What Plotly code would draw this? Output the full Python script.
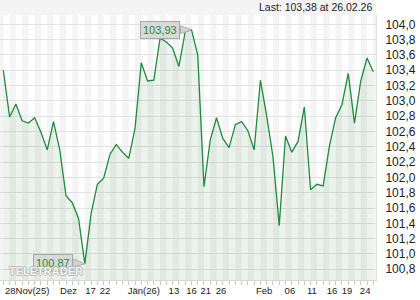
import plotly.graph_objects as go

# ---- data ----
values = [103.40, 102.79, 102.96, 102.74, 102.71, 102.78, 102.59, 102.36, 102.73, 102.36,
          101.76, 101.67, 101.46, 100.87, 101.53, 101.91, 101.99, 102.30, 102.43, 102.33,
          102.25, 102.64, 103.50, 103.26, 103.27, 103.82, 103.77, 103.69, 103.45, 103.90,
          103.93, 103.60, 101.88, 102.49, 102.78, 102.51, 102.39, 102.69, 102.73, 102.61,
          102.36, 103.27, 102.80, 102.27, 101.37, 102.54, 102.33, 102.47, 102.92, 101.84,
          101.91, 101.89, 102.41, 102.78, 102.95, 103.36, 102.71, 103.26, 103.56, 103.38]
idx = list(range(len(values)))

x_tick_labels = ["28Nov(25)", "Dez", "17", "22", "Jän(26)", "13", "16", "21", "26",
                 "Feb", "06", "11", "16", "19", "24"]
x_tick_pos = [3.8, 10.4, 13.9, 16.2, 22.4, 27.2, 30.0, 32.3, 34.7,
              41.6, 45.7, 49.2, 52.4, 54.8, 57.7]
y_ticks = [100.8, 101.0, 101.2, 101.4, 101.6, 101.8, 102.0, 102.2, 102.4,
           102.6, 102.8, 103.0, 103.2, 103.4, 103.6, 103.8, 104.0]
last_label = "Last: 103,38 at 26.02.26"

YMIN, YMAX = 100.66, 104.122
XMIN, XMAX = -0.53, 59.43
LINE = "#1f8b3c"
FONT = "Liberation Sans, Arial"

fig = go.Figure()
fig.add_trace(go.Scatter(
    x=idx, y=values, mode="lines",
    line=dict(color=LINE, width=1.3),
    fill="tozeroy", fillcolor="rgba(0,100,0,0.075)",
    hoverinfo="skip"))

shapes = []
# alternating day stripes
for k in range(0, len(values) // 2 + 1):
    shapes.append(dict(type="rect", xref="x", yref="paper",
                       x0=2 * k - 1, x1=2 * k, y0=0, y1=1,
                       fillcolor="#f4f4f4", line_width=0, layer="below"))
# header band
shapes.append(dict(type="rect", xref="paper", yref="paper",
                   x0=0, x1=1, y0=1, y1=1 + 15 / 265,
                   fillcolor="#f4f4f4", line_width=0, layer="below"))

imax = values.index(max(values))
imin = values.index(min(values))
annotations = []
for i, gap, dy in [(imax, 11, 0), (imin, 12, 1)]:
    v = values[i]
    shapes.append(dict(type="path", xref="x", yref="y",
                       xsizemode="pixel", ysizemode="pixel",
                       xanchor=i, yanchor=v,
                       path=f"M {-gap} {4 + dy} L {-gap} {-4 + dy} L 0 0 Z",
                       fillcolor="#d3d3d3", line=dict(color="#b0b0b0", width=1),
                       layer="above"))
    annotations.append(dict(x=i, y=v, xref="x", yref="y", showarrow=False,
                            text=f"{v:.2f}".replace(".", ","),
                            xanchor="right", yanchor="middle",
                            xshift=-gap, yshift=dy,
                            font=dict(family=FONT, size=11, color=LINE),
                            bgcolor="#d9d9d9", bordercolor="#a8a8a8",
                            borderwidth=1, borderpad=2))

annotations.append(dict(xref="paper", yref="paper", x=1, y=1 + 7.5 / 265,
                        xanchor="right", yanchor="middle", showarrow=False,
                        xshift=-2, text=last_label,
                        font=dict(family=FONT, size=10.5, color="#222")))
annotations.append(dict(xref="paper", yref="paper", x=6.5 / 376, y=(280 - 270.5) / 265,
                        xanchor="left", yanchor="middle", showarrow=False,
                        text="<b>TELETRADER</b>",
                        font=dict(family=FONT, size=11, color="rgba(255,255,255,0.85)",
                                  shadow="1px 0 0 #b5b5b5, -1px 0 0 #b5b5b5, 0 1px 0 #b5b5b5, 0 -1px 0 #b5b5b5")))

fig.update_layout(
    width=420, height=300,
    margin=dict(l=0, r=44, t=15, b=20),
    paper_bgcolor="white", plot_bgcolor="white",
    separators=",.",
    showlegend=False,
    shapes=shapes, annotations=annotations,
    xaxis=dict(range=[XMIN, XMAX], tickmode="array", tickvals=x_tick_pos, ticktext=x_tick_labels,
               ticks="", showgrid=False, zeroline=False,
               showline=True, linecolor="#d8d8d8", linewidth=1,
               tickfont=dict(family=FONT, size=9.5, color="#222"),
               ticklabelstandoff=2,
               minor=dict(ticks="outside", ticklen=4, tickcolor="#c8c8c8", tickwidth=1,
                          tickmode="linear", tick0=0, dtick=1, showgrid=False)),
    yaxis=dict(range=[YMIN, YMAX], side="right", tickmode="array", tickvals=y_ticks,
               tickformat=".1f", ticks="", showgrid=True, gridcolor="#e2e2e2", gridwidth=1,
               zeroline=False, showline=True, linecolor="#e2e2e2", mirror=False,
               tickfont=dict(family=FONT, size=12, color="#222"),
               ticklabelstandoff=6),
)

fig.write_html("out.html")
